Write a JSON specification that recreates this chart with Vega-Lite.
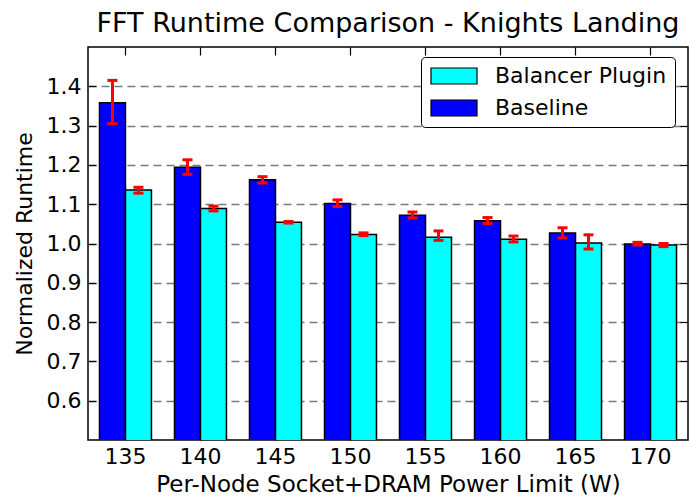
{
  "$schema": "https://vega.github.io/schema/vega-lite/v6.json",
  "autosize": "none",
  "width": 600,
  "height": 393,
  "padding": {"left": 88, "top": 47, "right": 1, "bottom": 59},
  "background": "white",
  "config": {
    "font": "DejaVu Sans",
    "view": {"stroke": "black", "strokeWidth": 1.5},
    "axis": {"labelFont": "DejaVu Sans", "titleFont": "DejaVu Sans", "labelColor": "black", "titleColor": "black", "titleFontWeight": "normal", "domain": false, "tickColor": "black", "tickWidth": 1.2}
  },
  "title": {"text": "FFT Runtime Comparison - Knights Landing", "fontSize": 27, "fontWeight": "normal", "font": "DejaVu Sans", "anchor": "middle", "offset": 8, "color": "black"},
  "data": {"values": [
    {"W": "135", "series": "Baseline", "value": 1.358, "lo": 1.305, "hi": 1.415},
    {"W": "135", "series": "Balancer Plugin", "value": 1.136, "lo": 1.128, "hi": 1.143},
    {"W": "140", "series": "Baseline", "value": 1.194, "lo": 1.176, "hi": 1.213},
    {"W": "140", "series": "Balancer Plugin", "value": 1.089, "lo": 1.083, "hi": 1.095},
    {"W": "145", "series": "Baseline", "value": 1.162, "lo": 1.154, "hi": 1.170},
    {"W": "145", "series": "Balancer Plugin", "value": 1.054, "lo": 1.052, "hi": 1.056},
    {"W": "150", "series": "Baseline", "value": 1.102, "lo": 1.094, "hi": 1.111},
    {"W": "150", "series": "Balancer Plugin", "value": 1.023, "lo": 1.020, "hi": 1.027},
    {"W": "155", "series": "Baseline", "value": 1.072, "lo": 1.065, "hi": 1.080},
    {"W": "155", "series": "Balancer Plugin", "value": 1.016, "lo": 1.008, "hi": 1.032},
    {"W": "160", "series": "Baseline", "value": 1.058, "lo": 1.051, "hi": 1.066},
    {"W": "160", "series": "Balancer Plugin", "value": 1.011, "lo": 1.004, "hi": 1.019},
    {"W": "165", "series": "Baseline", "value": 1.027, "lo": 1.014, "hi": 1.040},
    {"W": "165", "series": "Balancer Plugin", "value": 1.001, "lo": 0.986, "hi": 1.022},
    {"W": "170", "series": "Baseline", "value": 0.999, "lo": 0.996, "hi": 1.003},
    {"W": "170", "series": "Balancer Plugin", "value": 0.996, "lo": 0.992, "hi": 1.000}
  ]},
  "encoding": {
    "x": {"field": "W", "type": "nominal", "scale": {"paddingInner": 0.307, "paddingOuter": 0.153}},
    "xOffset": {"field": "series", "type": "nominal", "scale": {"domain": ["Baseline", "Balancer Plugin"], "paddingInner": 0, "paddingOuter": 0}}
  },
  "layer": [
    {
      "mark": {"type": "bar", "stroke": "black", "strokeWidth": 1.5, "opacity": 1, "clip": true},
      "encoding": {
        "x": {"field": "W", "type": "nominal", "axis": {"orient": "bottom", "title": "Per-Node Socket+DRAM Power Limit (W)", "labelAngle": 0, "labelFontSize": 22, "titleFontSize": 23, "tickSize": -8, "labelPadding": 14, "titlePadding": 6}},
        "y": {"field": "value", "type": "quantitative", "scale": {"domain": [0.5, 1.5], "nice": false, "zero": false}, "axis": {"orient": "left", "title": "Normalized Runtime", "values": [0.6, 0.7, 0.8, 0.9, 1.0, 1.1, 1.2, 1.3, 1.4], "format": ".1f", "labelFontSize": 22, "titleFontSize": 22, "tickSize": -8, "labelPadding": 15, "titlePadding": 10, "grid": true, "gridColor": "#7a7a7a", "gridDash": [8, 5], "gridWidth": 1.5, "gridOpacity": 1}},
        "color": {"field": "series", "type": "nominal", "scale": {"domain": ["Balancer Plugin", "Baseline"], "range": ["#00ffff", "#0000ff"]}, "legend": {"title": null, "orient": "none", "legendX": 333, "legendY": 10, "fillColor": "white", "strokeColor": "black", "cornerRadius": 4, "padding": 8, "labelFontSize": 22, "labelFont": "DejaVu Sans", "labelColor": "black", "labelLimit": 400, "symbolOffset": 14, "labelOffset": 30, "rowPadding": 10, "symbolType": "M-2.875,-1H2.875V1H-2.875Z", "symbolSize": 256, "symbolStrokeColor": "black", "symbolStrokeWidth": 1.2, "symbolOpacity": 1}}
      }
    },
    {
      "mark": {"type": "rule", "color": "red", "strokeWidth": 3},
      "encoding": {
        "x": {"field": "W", "type": "nominal", "axis": {"orient": "top", "labels": false, "title": null, "tickSize": -8}},
        "y": {"field": "lo", "type": "quantitative", "axis": {"orient": "right", "labels": false, "title": null, "values": [0.6, 0.7, 0.8, 0.9, 1.0, 1.1, 1.2, 1.3, 1.4], "tickSize": -8, "grid": false}},
        "y2": {"field": "hi"}
      }
    },
    {
      "mark": {"type": "tick", "color": "red", "thickness": 3, "size": 10, "orient": "horizontal", "opacity": 1},
      "encoding": {
        "x": {"field": "W", "type": "nominal", "axis": null},
        "y": {"field": "lo", "type": "quantitative", "axis": null}
      }
    },
    {
      "mark": {"type": "tick", "color": "red", "thickness": 3, "size": 10, "orient": "horizontal", "opacity": 1},
      "encoding": {
        "x": {"field": "W", "type": "nominal", "axis": null},
        "y": {"field": "hi", "type": "quantitative", "axis": null}
      }
    }
  ],
  "resolve": {"axis": {"x": "independent", "y": "independent"}}
}
